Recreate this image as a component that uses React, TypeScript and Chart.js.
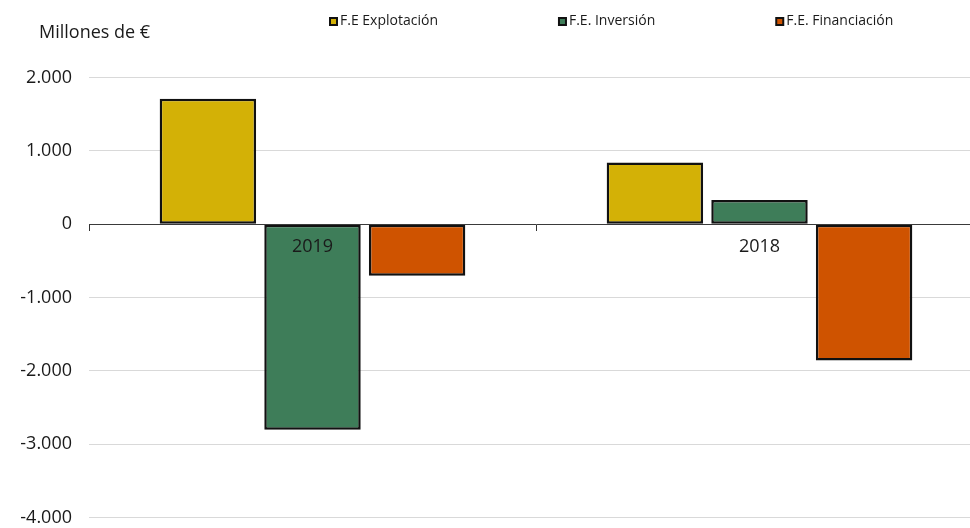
import React, { useEffect, useRef } from "react";
import { Chart, registerables } from "chart.js";

Chart.register(...registerables);

const categories = ["2019", "2018"];
const seriesLabels = ["F.E Explotación", "F.E. Inversión", "F.E. Financiación"];
const explotacion = [1710, 840];
const inversion = [-2805, 330];
const financiacion = [-705, -1860];
const seriesColors = ["#D3B106", "#3E7D59", "#CF5300"];
const yTicks = [2000, 1000, 0, -1000, -2000, -3000, -4000];
const unitLabel = "Millones de €";

const FONT = "'Open Sans', 'Noto Sans', sans-serif";
const TEXT = "#1a1a1a";

function fmt(v: number): string {
  const neg = v < 0;
  const s = Math.abs(Math.round(v)).toString().replace(/\B(?=(\d{3})+(?!\d))/g, ".");
  return (neg ? "-" : "") + s;
}

const headerPlugin = {
  id: "header",
  afterDraw(chart: any) {
    const ctx = chart.ctx;
    ctx.save();
    ctx.font = `18px ${FONT}`;
    ctx.fillStyle = TEXT;
    ctx.textBaseline = "alphabetic";
    ctx.textAlign = "left";
    ctx.fillText(unitLabel, 39, 38);
    ctx.font = `14px ${FONT}`;
    ctx.textBaseline = "middle";
    let x = 329;
    const y = 21.5;
    chart.data.datasets.forEach((ds: any) => {
      ctx.fillStyle = "#111";
      ctx.fillRect(x, y - 4.5, 9, 9);
      ctx.fillStyle = ds.backgroundColor;
      ctx.fillRect(x + 2, y - 2.5, 5, 5);
      ctx.fillStyle = TEXT;
      ctx.fillText(ds.label, x + 11, y);
      const w = ctx.measureText(ds.label).width;
      x += 11 + w + 120;
    });
    ctx.restore();
  },
};

export default function App() {
  const ref = useRef<HTMLCanvasElement | null>(null);
  useEffect(() => {
    if (!ref.current) return;
    const seriesData = [explotacion, inversion, financiacion];
    const chart = new Chart(ref.current, {
      type: "bar",
      data: {
        labels: categories,
        datasets: seriesLabels.map((label, i) => ({
          label,
          data: seriesData[i],
          backgroundColor: seriesColors[i],
          borderColor: "#111111",
          borderWidth: 2.5,
          borderSkipped: false,
          categoryPercentage: 0.702,
          barPercentage: 0.922,
        })),
      },
      options: {
        responsive: false,
        animation: false,
        devicePixelRatio: 1,
        layout: { padding: { top: 77.5, bottom: 10.5, left: 0, right: 0 } },
        plugins: {
          legend: { display: false },
          title: { display: false },
          tooltip: { enabled: false },
        },
        scales: {
          x: {
            position: { y: 0 } as any,
            grid: {
              offset: true,
              drawOnChartArea: false,
              drawTicks: true,
              tickLength: 6,
              color: "#333333",
              lineWidth: 1,
            },
            border: { display: true, color: "#3a3a3a", width: 1, z: 1 } as any,
            ticks: {
              font: { family: FONT, size: 18 },
              color: TEXT,
              padding: 6,
              maxRotation: 0,
              z: 1,
            } as any,
          },
          y: {
            min: -4000,
            max: 2000,
            afterFit: (scale: any) => {
              scale.width = 89;
              scale.paddingTop = 0;
              scale.paddingBottom = 0;
            },
            afterBuildTicks: (scale: any) => {
              scale.ticks = yTicks.map((v) => ({ value: v }));
            },
            grid: {
              drawTicks: false,
              color: "#d9d9d9",
              lineWidth: 1,
            },
            border: { display: false },
            ticks: {
              font: { family: FONT, size: 18 },
              color: TEXT,
              padding: 17,
              callback: (v: any) => fmt(Number(v)),
            },
          },
        },
      },
      plugins: [headerPlugin],
    });
    return () => chart.destroy();
  }, []);

  return (
    <div
      style={{
        position: "fixed",
        left: 0,
        top: 0,
        width: 970,
        height: 528,
        overflow: "hidden",
        background: "#ffffff",
      }}
    >
      <canvas ref={ref} width={983} height={528} style={{ display: "block" }} />
    </div>
  );
}
